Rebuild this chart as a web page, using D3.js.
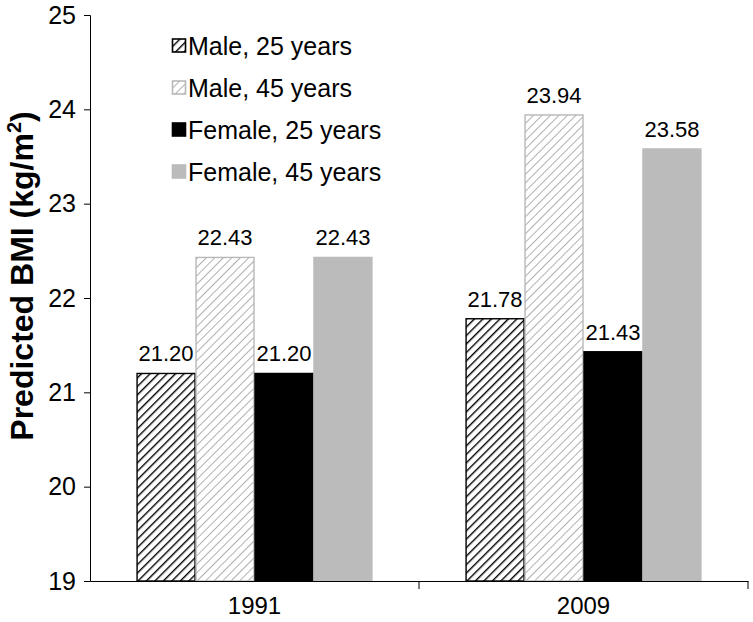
<!DOCTYPE html>
<html>
<head>
<meta charset="utf-8">
<script src="https://cdn.jsdelivr.net/npm/d3@7"></script>
<style>
  body { margin: 0; background: #fff; }
  svg { display: block; font-family: "Liberation Sans", Arial, sans-serif; }
</style>
</head>
<body>
<div id="chart"></div>
<script>
const categories = ["1991", "2009"];
const seriesNames = ["Male, 25 years", "Male, 45 years", "Female, 25 years", "Female, 45 years"];
const male25 = [21.20, 21.78];
const male45 = [22.43, 23.94];
const female25 = [21.20, 21.43];
const female45 = [22.43, 23.58];
const yTicks = [19, 20, 21, 22, 23, 24, 25];

const seriesValues = [male25, male45, female25, female45];
const W = 753, H = 622;
const FONT = "Liberation Sans, Arial, sans-serif";
const svg = d3.select("#chart").append("svg").attr("width", W).attr("height", H);

const defs = svg.append("defs");
function hatch(id, color, width) {
  const p = defs.append("pattern").attr("id", id).attr("patternUnits", "userSpaceOnUse")
    .attr("width", 6).attr("height", 6).attr("patternTransform", "rotate(45)");
  p.append("rect").attr("width", 6).attr("height", 6).attr("fill", "#fff");
  p.append("line").attr("x1", 0).attr("y1", 0).attr("x2", 0).attr("y2", 6)
    .attr("stroke", color).attr("stroke-width", width);
}
hatch("hatchBlack", "#000", 2.8);
hatch("hatchGrey", "#b0b0b0", 2);

const styles = [
  { fill: "url(#hatchBlack)", stroke: "#000" },
  { fill: "url(#hatchGrey)", stroke: "#b8b8b8" },
  { fill: "#000", stroke: "#000" },
  { fill: "#bbbbbb", stroke: "#bbbbbb" }
];

const mLeft = 90, mRight = 748, mTop = 15, mBottom = 581;
const y = d3.scaleLinear().domain([19, 25]).range([mBottom, mTop]);
const x0 = d3.scaleBand().domain(categories).range([mLeft, mRight]).paddingInner(0).paddingOuter(0);
const x1 = d3.scaleBand().domain(d3.range(seriesNames.length)).range([0, x0.bandwidth()])
  .paddingOuter(0.79).paddingInner(0);

// bars
categories.forEach((c, ci) => {
  const g = svg.append("g").attr("transform", `translate(${x0(c)},0)`);
  seriesValues.forEach((vals, si) => {
    const v = vals[ci];
    g.append("rect")
      .attr("x", x1(si) + 0.5).attr("y", y(v))
      .attr("width", x1.bandwidth() - 1).attr("height", y(19) - y(v))
      .attr("fill", styles[si].fill).attr("stroke", styles[si].stroke).attr("stroke-width", 1.4);
    g.append("text")
      .attr("x", x1(si) + x1.bandwidth() / 2).attr("y", y(v) - 12)
      .attr("text-anchor", "middle").attr("font-size", 22).attr("fill", "#000")
      .text(v.toFixed(2));
  });
});

// y axis
const yAxis = d3.axisLeft(y).tickValues(yTicks).tickSize(6).tickPadding(8).tickFormat(d3.format("d"));
const gy = svg.append("g").attr("transform", `translate(${mLeft},0)`).call(yAxis);
gy.selectAll("text").attr("font-size", 25).attr("fill", "#000").style("font-family", FONT);
gy.selectAll("line, path").attr("stroke", "#000");

// x axis
const xAxis = d3.axisBottom(x0).tickSize(0).tickPadding(16);
const gx = svg.append("g").attr("transform", `translate(0,${mBottom})`).call(xAxis);
gx.select("path").attr("stroke", "#000");
gx.selectAll("text").attr("font-size", 24).attr("fill", "#000").style("font-family", FONT);
const boundaries = [x0(categories[1]), mRight];
gx.selectAll(".bnd").data(boundaries).enter().append("line")
  .attr("x1", d => d).attr("x2", d => d).attr("y1", 0).attr("y2", 8).attr("stroke", "#000");

// y title
svg.append("text")
  .attr("transform", `translate(33,276) rotate(-90)`)
  .attr("text-anchor", "middle").attr("font-size", 32).attr("font-weight", "bold").attr("fill", "#000")
  .call(t => {
    t.append("tspan").text("Predicted BMI (kg/m");
    t.append("tspan").attr("font-size", 20).attr("dy", -12).text("2");
    t.append("tspan").attr("dy", 12).text(")");
  });

// legend
const lg = svg.append("g").attr("transform", "translate(172,46)");
seriesNames.forEach((name, i) => {
  const row = lg.append("g").attr("transform", `translate(0,${i * 42})`);
  row.append("rect").attr("x", 0.5).attr("y", -7).attr("width", 13).attr("height", 13)
    .attr("fill", styles[i].fill).attr("stroke", styles[i].stroke).attr("stroke-width", 1.6);
  row.append("text").attr("x", 16).attr("y", 9).attr("font-size", 25).attr("fill", "#000").text(name);
});
</script>
</body>
</html>
